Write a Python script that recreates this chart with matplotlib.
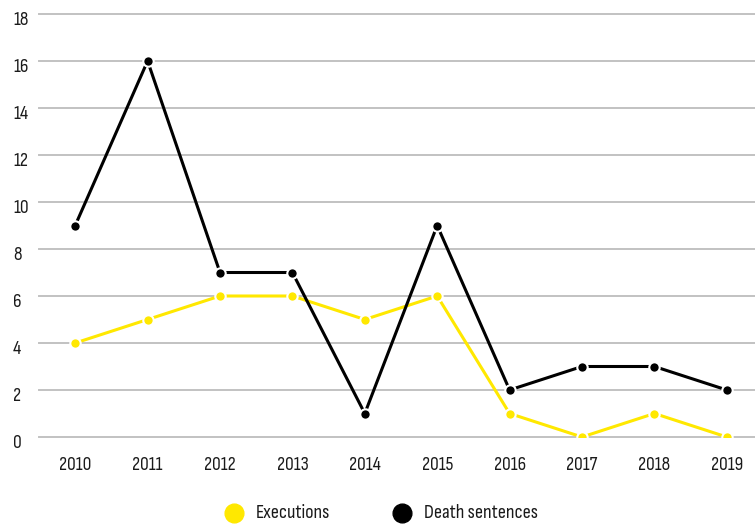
import matplotlib
matplotlib.use("Agg")
import matplotlib.pyplot as plt
from matplotlib.lines import Line2D

years = ["2010", "2011", "2012", "2013", "2014", "2015", "2016", "2017", "2018", "2019"]
executions = [4, 5, 6, 6, 5, 6, 1, 0, 1, 0]
death_sentences = [9, 16, 7, 7, 1, 9, 2, 3, 3, 2]
yticks = [0, 2, 4, 6, 8, 10, 12, 14, 16, 18]
series_names = ["Executions", "Death sentences"]

plt.rcParams["font.family"] = ["Sofia Sans Condensed", "Roboto Condensed", "DejaVu Sans"]

W, H = 755, 524
YELLOW = "#FFE800"
TXT = "#1a1a1a"
FS = 14
fig = plt.figure(figsize=(W/100, H/100), dpi=100)
ax = fig.add_axes([39/W, 1-437/H, 1-39/W, (437-14)/H])

x = list(range(len(years)))
for vals, col, z in [(executions, YELLOW, 3), (death_sentences, "black", 4)]:
    ax.plot(x, vals, color=col, lw=2.2, zorder=z, solid_capstyle="round")
    ax.plot(x, vals, ls="none", marker="o", ms=7.5, mfc=col, mec="white", mew=1.5, zorder=z+0.5)

ax.set_ylim(0, 18)
ax.set_xlim(-0.5, 9.5 - 8/72.4)
ax.set_yticks(yticks)
ax.set_xticks(x)
ax.set_xticklabels(years)
ax.grid(axis="y", color="#c2c2c2", lw=1.4)
for gl in ax.get_ygridlines():
    gl.set_clip_on(False)
ax.set_axisbelow(True)
for s in ax.spines.values():
    s.set_visible(False)
ax.tick_params(axis="both", length=0, labelsize=FS, colors=TXT)
ax.tick_params(axis="y", labelleft=False)
ax.tick_params(axis="x", pad=14)

for v in yticks:
    ax.annotate(str(v), xy=(0, v), xycoords=ax.get_yaxis_transform(),
                xytext=(-26, -6), textcoords="offset pixels",
                ha="left", va="center", fontsize=FS, color=TXT)

# legend
ly = 1 - 513/H
for cx, col, tx, name in [(234, YELLOW, 256, series_names[0]), (402, "black", 424, series_names[1])]:
    fig.add_artist(Line2D([cx/W], [ly], transform=fig.transFigure, ls="none",
                          marker="o", ms=13.5, mfc=col, mec=col))
    fig.text(tx/W, ly, name, ha="left", va="center", fontsize=FS + 0.5, color=TXT)

fig.savefig("out.png", dpi=100)
